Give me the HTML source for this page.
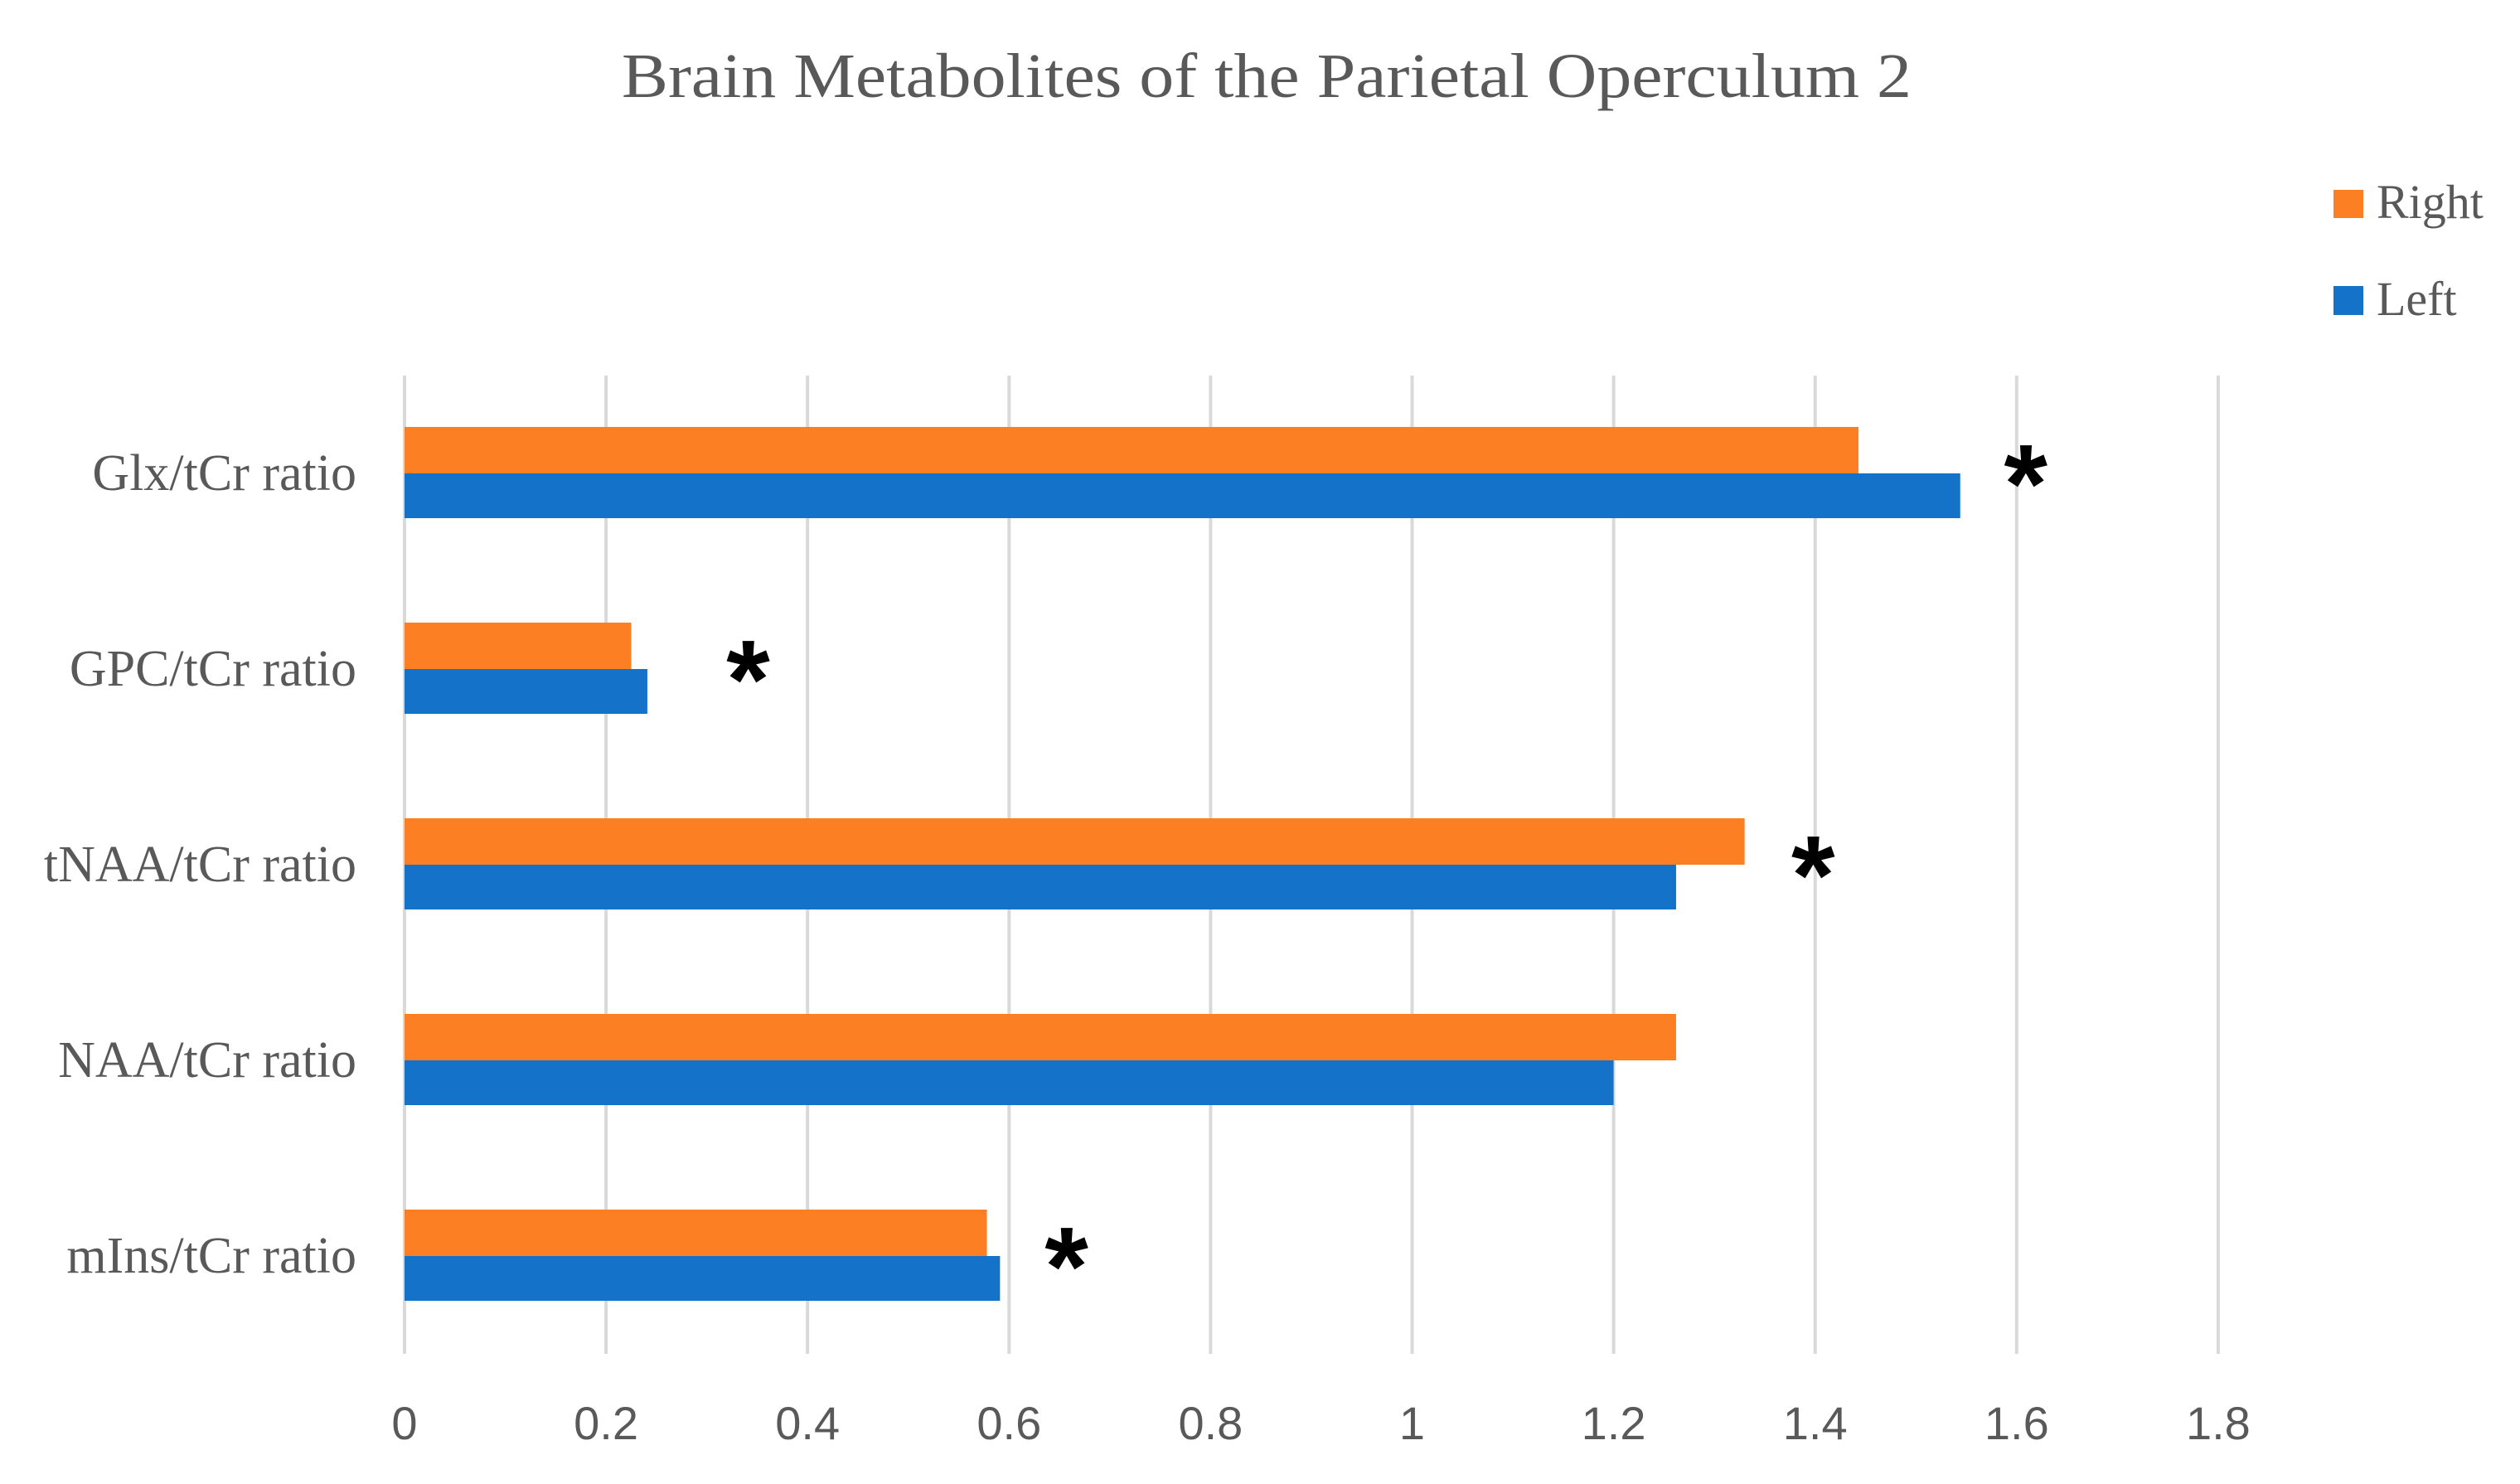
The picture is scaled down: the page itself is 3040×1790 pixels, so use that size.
<!DOCTYPE html>
<html><head><meta charset="utf-8"><style>
html,body{margin:0;padding:0;background:#fff;}
svg{display:block;}
</style></head><body>
<svg id="chart" width="3040" height="1790" viewBox="0 0 3040 1790" xmlns="http://www.w3.org/2000/svg">
<rect width="3040" height="1790" fill="#fff"/>
<text x="1528" y="117" text-anchor="middle" font-family="Liberation Serif, serif" font-size="76" fill="#595959" textLength="1556" lengthAdjust="spacingAndGlyphs">Brain Metabolites of the Parietal Operculum 2</text>
<g>
<g>
<rect x="2815" y="229" width="36" height="34" fill="#fd7f24"/>
<text x="2867" y="263" font-family="Liberation Serif, serif" font-size="58" fill="#595959">Right</text>
</g>
<g>
<rect x="2815" y="345" width="36" height="35" fill="#1572c9"/>
<text x="2867" y="380" font-family="Liberation Serif, serif" font-size="58" fill="#595959">Left</text>
</g>
</g>
<g id="grid"></g>
<g id="bars"></g>
<g id="stars"></g>
<g id="xaxis"></g>
<g id="yaxis"></g>
</svg>
<script>
const categories = ["Glx/tCr ratio","GPC/tCr ratio","tNAA/tCr ratio","NAA/tCr ratio","mIns/tCr ratio"];
const rightValues = [1.443, 0.225, 1.330, 1.262, 0.578];
const leftValues = [1.544, 0.241, 1.262, 1.200, 0.591];
const starValues = [1.609, 0.341, 1.398, null, 0.657];
const tickValues = [0, 0.2, 0.4, 0.6, 0.8, 1, 1.2, 1.4, 1.6, 1.8];
const tickLabels = ["0","0.2","0.4","0.6","0.8","1","1.2","1.4","1.6","1.8"];

const NS = "http://www.w3.org/2000/svg";
const x0 = 488, xScale = 1215.5, plotTop = 453, plotBottom = 1633;
const band = (plotBottom - plotTop) / categories.length;
const barH = 56;
function xPos(v){ return x0 + v * xScale; }
function yCenter(i){ return plotTop + band * (i + 0.5); }
function mk(tag, attrs, parent){ const e = document.createElementNS(NS, tag); for (const k in attrs) e.setAttribute(k, attrs[k]); parent.appendChild(e); return e; }

const grid = document.getElementById('grid');
const xaxis = document.getElementById('xaxis');
tickValues.forEach((t, i) => {
  const l = mk('line', {x1: xPos(t), x2: xPos(t), y1: plotTop, y2: plotBottom, stroke: '#d9d9d9', 'stroke-width': 4}, grid);
  
  
  const tx = mk('text', {x: xPos(t), y: 1736, 'text-anchor': 'middle', 'font-family': 'Liberation Sans, sans-serif', 'font-size': 56, fill: '#595959'}, xaxis);
  tx.textContent = tickLabels[i];
  
  
});

const bars = document.getElementById('bars');
const stars = document.getElementById('stars');
const yaxis = document.getElementById('yaxis');
categories.forEach((c, i) => {
  const yc = yCenter(i);
  const r = mk('rect', {x: x0, y: yc - barH, width: xPos(rightValues[i]) - x0, height: barH, fill: '#fd7f24'}, bars);
  
  
  const b = mk('rect', {x: x0, y: yc, width: xPos(leftValues[i]) - x0, height: barH - 2, fill: '#1572c9'}, bars);
  
  
  const lab = mk('text', {x: 430, y: yc + 20, 'text-anchor': 'end', 'font-family': 'Liberation Serif, serif', 'font-size': 62, fill: '#595959'}, yaxis);
  lab.textContent = c;
  
  
  if (starValues[i] !== null) {
    const s = mk('text', {x: xPos(starValues[i]), y: yc - 20 + 79, 'text-anchor': 'middle', 'font-family': 'Liberation Sans, sans-serif', 'font-size': 135, 'font-weight': 'bold', fill: '#000'}, stars);
    s.textContent = '*';
    
    
  }
});
</script>
</body></html>
